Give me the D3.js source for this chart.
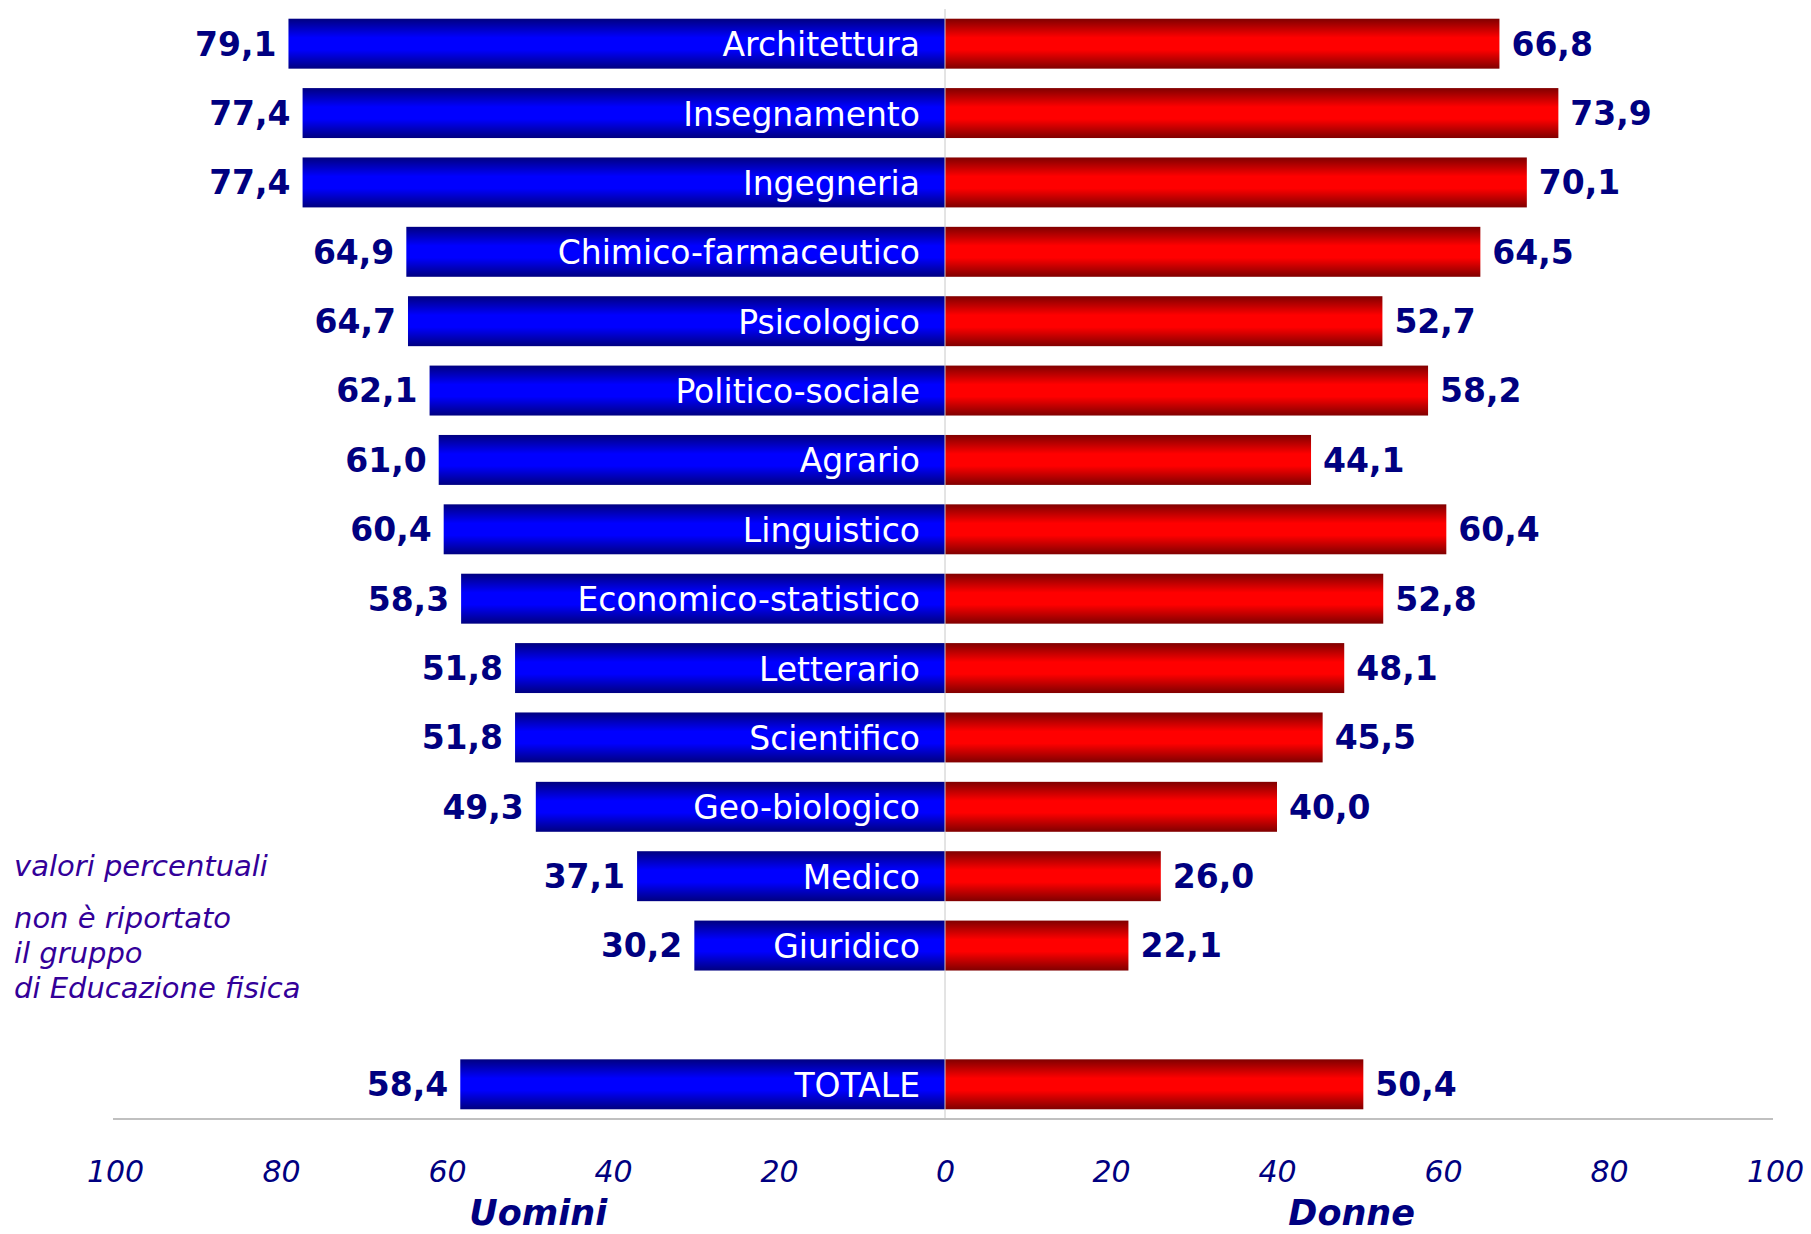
<!DOCTYPE html>
<html>
<head>
<meta charset="utf-8">
<script src="https://cdn.jsdelivr.net/npm/d3@7"></script>
<style>
    html, body { margin: 0; padding: 0; background: #fff; }
    svg { display: block; }
</style>
</head>
<body>
<svg id="chart"></svg>
<script>
(function(d3) {
    'use strict';

    var categories = ['Architettura', 'Insegnamento', 'Ingegneria', 'Chimico-farmaceutico', 'Psicologico',
        'Politico-sociale', 'Agrario', 'Linguistico', 'Economico-statistico', 'Letterario',
        'Scientifico', 'Geo-biologico', 'Medico', 'Giuridico'];
    var uomini = [79.1, 77.4, 77.4, 64.9, 64.7, 62.1, 61.0, 60.4, 58.3, 51.8, 51.8, 49.3, 37.1, 30.2];
    var donne = [66.8, 73.9, 70.1, 64.5, 52.7, 58.2, 44.1, 60.4, 52.8, 48.1, 45.5, 40.0, 26.0, 22.1];
    var totaleLabel = 'TOTALE';
    var totaleUomini = 58.4;
    var totaleDonne = 50.4;
    var tickValues = [0, 20, 40, 60, 80, 100];
    var noteLines = ['valori percentuali', 'non è riportato', 'il gruppo', 'di Educazione fisica'];

    var width = 1811;
    var height = 1234;
    var centerX = 945;
    var top = 9;
    var axisY = 1119;

    var navy = '#000080';
    var fontFamily = '"DejaVu Sans", Verdana, sans-serif';
    var fmt = function (v) { return d3.format('.1f')(v).replace('.', ','); };

    var svg = d3.select('#chart')
        .attr('width', width)
        .attr('height', height);

    var defs = svg.append('defs');

    function addGradient(id, dark, bright) {
        var g = defs.append('linearGradient')
            .attr('id', id)
            .attr('x1', 0).attr('y1', 0)
            .attr('x2', 0).attr('y2', 1);
        g.append('stop').attr('offset', '0%').attr('stop-color', dark);
        g.append('stop').attr('offset', '38%').attr('stop-color', bright);
        g.append('stop').attr('offset', '62%').attr('stop-color', bright);
        g.append('stop').attr('offset', '100%').attr('stop-color', dark);
    }

    addGradient('gradBlue', '#000080', '#0000ff');
    addGradient('gradRed', '#800000', '#ff0000');

    // rows: 14 categories, one empty slot, then the total
    var rows = categories.map(function (c, i) {
        return {name: c, m: uomini[i], f: donne[i], slot: i};
    });
    rows.push({name: totaleLabel, m: totaleUomini, f: totaleDonne, slot: categories.length + 1});

    var scaleY = d3.scaleBand()
        .domain(d3.range(categories.length + 2))
        .range([top, axisY])
        .paddingInner(0.28)
        .paddingOuter(0.14);

    var scaleLeft = d3.scaleLinear().domain([0, 100]).range([centerX, 115]);
    var scaleRight = d3.scaleLinear().domain([0, 100]).range([centerX, 1775]);

    var bars = svg.append('g').attr('class', 'bars');

    bars.selectAll('rect.m')
        .data(rows)
        .enter().append('rect')
        .attr('class', 'm')
        .attr('x', function (d) { return scaleLeft(d.m); })
        .attr('y', function (d) { return scaleY(d.slot); })
        .attr('width', function (d) { return centerX - scaleLeft(d.m); })
        .attr('height', scaleY.bandwidth())
        .attr('fill', 'url(#gradBlue)');

    bars.selectAll('rect.f')
        .data(rows)
        .enter().append('rect')
        .attr('class', 'f')
        .attr('x', centerX)
        .attr('y', function (d) { return scaleY(d.slot); })
        .attr('width', function (d) { return scaleRight(d.f) - centerX; })
        .attr('height', scaleY.bandwidth())
        .attr('fill', 'url(#gradRed)');

    // center line and bottom line
    svg.append('line')
        .attr('x1', centerX).attr('x2', centerX)
        .attr('y1', top).attr('y2', axisY)
        .attr('stroke', '#c8c8c8')
        .attr('stroke-width', 1);

    svg.append('line')
        .attr('x1', 113).attr('x2', 1773)
        .attr('y1', axisY).attr('y2', axisY)
        .attr('stroke', '#c0c0c0')
        .attr('stroke-width', 2);

    var midY = function (d) { return scaleY(d.slot) + scaleY.bandwidth() / 2; };

    var labels = svg.append('g')
        .attr('font-family', fontFamily);

    labels.selectAll('text.cat')
        .data(rows)
        .enter().append('text')
        .attr('class', 'cat')
        .attr('x', centerX - 25)
        .attr('y', midY)
        .attr('dy', '0.38em')
        .attr('text-anchor', 'end')
        .attr('font-size', 33)
        .attr('fill', '#fff')
        .text(function (d) { return d.name; });

    labels.selectAll('text.vm')
        .data(rows)
        .enter().append('text')
        .attr('class', 'vm')
        .attr('x', function (d) { return scaleLeft(d.m) - 12; })
        .attr('y', midY)
        .attr('dy', '0.36em')
        .attr('text-anchor', 'end')
        .attr('font-size', 33)
        .attr('font-weight', 'bold')
        .attr('fill', navy)
        .text(function (d) { return fmt(d.m); });

    labels.selectAll('text.vf')
        .data(rows)
        .enter().append('text')
        .attr('class', 'vf')
        .attr('x', function (d) { return scaleRight(d.f) + 12; })
        .attr('y', midY)
        .attr('dy', '0.36em')
        .attr('text-anchor', 'start')
        .attr('font-size', 33)
        .attr('font-weight', 'bold')
        .attr('fill', navy)
        .text(function (d) { return fmt(d.f); });

    // axes
    var styleAxis = function (g) {
        g.select('.domain').remove();
        g.selectAll('.tick line').remove();
        g.selectAll('.tick text')
            .attr('y', 0)
            .attr('dy', 0)
            .attr('font-family', fontFamily)
            .attr('font-size', 30)
            .attr('font-style', 'italic')
            .attr('fill', navy);
    };

    svg.append('g')
        .attr('transform', 'translate(0,1182)')
        .call(d3.axisBottom(scaleLeft).tickValues(tickValues).tickSize(0))
        .call(styleAxis);

    svg.append('g')
        .attr('transform', 'translate(0,1182)')
        .call(d3.axisBottom(scaleRight).tickValues(tickValues.slice(1)).tickSize(0))
        .call(styleAxis);

    var titles = svg.append('g')
        .attr('font-family', fontFamily)
        .attr('font-size', 35)
        .attr('font-weight', 'bold')
        .attr('font-style', 'italic')
        .attr('fill', navy)
        .attr('text-anchor', 'middle');

    titles.append('text').attr('x', scaleLeft(49)).attr('y', 1225).text('Uomini');
    titles.append('text').attr('x', scaleRight(49)).attr('y', 1225).text('Donne');

    // notes
    var noteY = [876, 928, 963, 998];

    svg.append('g')
        .attr('font-family', fontFamily)
        .attr('font-size', 29)
        .attr('font-style', 'italic')
        .attr('fill', '#330099')
        .selectAll('text')
        .data(noteLines)
        .enter().append('text')
        .attr('x', 14)
        .attr('y', function (d, i) { return noteY[i]; })
        .text(function (d) { return d; });

}(window.d3));
</script>
</body>
</html>
